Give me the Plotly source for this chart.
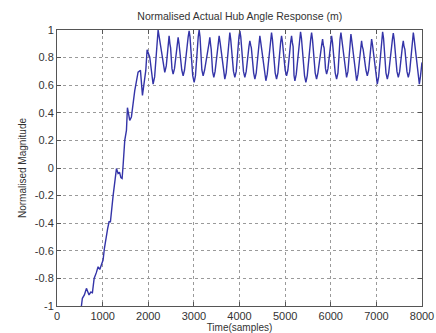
import plotly.graph_objects as go

# Rising part (samples, normalised magnitude)
rise_t = [535, 556, 600, 645, 702, 740, 776, 814, 860, 901, 937, 1010, 1040, 1068,
          1110, 1141, 1171, 1230, 1303, 1339, 1370, 1400, 1427, 1449, 1485, 1522,
          1544, 1594, 1631, 1704, 1777, 1829, 1873, 1946, 1975, 2033, 2106, 2140]
rise_v = [-1.0, -0.944, -0.92, -0.872, -0.92, -0.90, -0.904, -0.80, -0.76, -0.716,
          -0.735, -0.667, -0.58, -0.51, -0.44, -0.39, -0.39, -0.2, -0.004, -0.04,
          -0.03, -0.07, -0.076, 0.02, 0.2, 0.273, 0.437, 0.345, 0.37, 0.56, 0.695,
          0.707, 0.526, 0.707, 0.857, 0.803, 0.608, 0.66]

# Oscillating part
osc_t = [2195, 2216, 2240, 2330, 2362, 2395, 2440, 2457, 2475, 2490, 2520, 2545, 2575,
         2635, 2655, 2675, 2735, 2765, 2795, 2875, 2896, 2915, 2975, 3006, 3035,
         3095, 3116, 3135, 3175, 3203, 3235, 3330, 3350, 3365, 3380, 3410, 3437, 3465,
         3535, 3554, 3575, 3648, 3678, 3708, 3768, 3788, 3808, 3868, 3898, 3928,
         3988, 4008, 4028, 4087, 4117, 4147, 4207, 4227, 4245, 4260, 4310, 4337, 4367,
         4426, 4446, 4466, 4548, 4578, 4608, 4682, 4702, 4722, 4782, 4812, 4842,
         4902, 4922, 4942, 5001, 5031, 5061, 5121, 5141, 5158, 5175, 5195, 5214, 5244,
         5318, 5338, 5358, 5425, 5455, 5485, 5560, 5580, 5600, 5659, 5689, 5719,
         5801, 5821, 5838, 5855, 5885, 5909, 5939, 5998, 6018, 6038, 6098, 6128, 6158,
         6203, 6223, 6243, 6317, 6347, 6377, 6422, 6442, 6462, 6537, 6567, 6597,
         6656, 6676, 6692, 6710, 6771, 6801, 6831, 6876, 6896, 6916, 6990, 7020, 7050,
         7117, 7137, 7157, 7210, 7240, 7270, 7351, 7371, 7391, 7451, 7481, 7511,
         7570, 7590, 7606, 7625, 7670, 7700, 7730, 7790, 7810, 7830, 7912, 7942, 7965,
         8000]
osc_v = [0.95, 1.0, 0.95, 0.74, 0.693, 0.74, 0.92, 0.958, 0.90, 0.87, 0.72, 0.68, 0.72,
         0.90, 0.946, 0.90, 0.71, 0.668, 0.71, 0.95, 0.994, 0.95, 0.67, 0.62, 0.67,
         0.95, 1.0, 0.95, 0.71, 0.668, 0.71, 0.90, 0.946, 0.90, 0.86, 0.70, 0.656, 0.70,
         0.91, 0.958, 0.91, 0.69, 0.644, 0.69, 0.93, 0.982, 0.93, 0.70, 0.656, 0.70,
         0.95, 0.994, 0.95, 0.70, 0.656, 0.70, 0.88, 0.922, 0.89, 0.87, 0.69, 0.644, 0.69,
         0.91, 0.958, 0.91, 0.68, 0.632, 0.68, 0.93, 0.982, 0.93, 0.69, 0.644, 0.69,
         0.91, 0.958, 0.91, 0.71, 0.668, 0.71, 0.91, 0.958, 0.91, 0.88, 0.67, 0.632, 0.68,
         0.94, 0.987, 0.94, 0.67, 0.62, 0.67, 0.93, 0.982, 0.93, 0.69, 0.644, 0.69,
         0.89, 0.934, 0.89, 0.87, 0.72, 0.68, 0.72, 0.91, 0.958, 0.91, 0.69, 0.644, 0.69,
         0.93, 0.982, 0.93, 0.70, 0.656, 0.70, 0.92, 0.97, 0.92, 0.68, 0.632, 0.68,
         0.88, 0.922, 0.88, 0.86, 0.71, 0.668, 0.71, 0.89, 0.934, 0.89, 0.66, 0.608, 0.66,
         0.94, 0.987, 0.94, 0.69, 0.644, 0.69, 0.93, 0.977, 0.93, 0.70, 0.656, 0.70,
         0.88, 0.922, 0.88, 0.86, 0.70, 0.656, 0.70, 0.93, 0.982, 0.93, 0.66, 0.608, 0.66,
         0.765]

time = rise_t + osc_t
mag = rise_v + osc_v

x_ticks = [0, 1000, 2000, 3000, 4000, 5000, 6000, 7000, 8000]
y_ticks = [-1, -0.8, -0.6, -0.4, -0.2, 0, 0.2, 0.4, 0.6, 0.8, 1]
y_labels = ["-1", "-0.8", "-0.6", "-0.4", "-0.2", "0", "0.2", "0.4", "0.6", "0.8", "1"]

fig = go.Figure()
fig.add_trace(go.Scatter(x=time, y=mag, mode="lines",
                         line=dict(color="#3434a8", width=1.4), showlegend=False))

axis_common = dict(showline=True, linecolor="#555555", linewidth=1, mirror="allticks",
                   ticks="inside", ticklen=4, tickcolor="#555555",
                   showgrid=True, gridcolor="#9a9a9a", griddash="dot", gridwidth=1,
                   zeroline=False, automargin=False,
                   tickfont=dict(family="Liberation Sans, Arial", size=11, color="#333333"))

fig.update_xaxes(range=[0, 8000], tickvals=x_ticks, ticktext=[str(v) for v in x_ticks],
                 title=dict(text="Time(samples)", standoff=0,
                            font=dict(family="Liberation Sans, Arial", size=10, color="#333333")),
                 **axis_common)
fig.update_yaxes(range=[-1, 1], tickvals=y_ticks, ticktext=y_labels,
                 title=dict(text="Normalised Magnitude", standoff=6,
                            font=dict(family="Liberation Sans, Arial", size=10, color="#333333")),
                 **axis_common)

fig.update_layout(
    width=436, height=333,
    margin=dict(l=57, r=14, t=30, b=27),
    paper_bgcolor="white", plot_bgcolor="white",
    title=dict(text="Normalised Actual Hub Angle Response (m)", x=0.55, xanchor="center",
               y=0.95, yanchor="middle",
               font=dict(family="Liberation Sans, Arial", size=10.5, color="#333333")),
)

fig.write_html("out.html")
